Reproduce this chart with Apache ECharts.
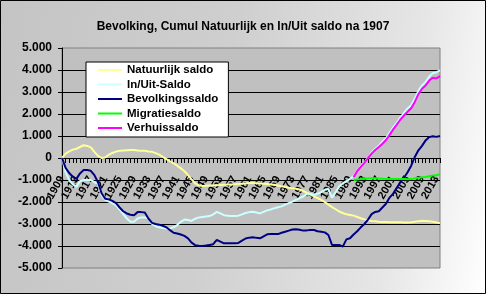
<!DOCTYPE html>
<html>
<head>
<meta charset="utf-8">
<script src="https://cdn.jsdelivr.net/npm/echarts@6/dist/echarts.min.js"></script>
<style>
html,body{margin:0;padding:0;}
#c{width:486px;height:294px;background:linear-gradient(100deg,#c4c4c4 0%,#cfcfcf 45%,#e6e6e6 80%,#ffffff 100%);}
</style>
</head>
<body>
<div id="c"></div>
<script>
// Years 1909..2014
var years = [];
for (var y = 1909; y <= 2014; y++) years.push(String(y));

var natuurlijk = [0,200,300,380,420,500,580,550,480,280,100,0,20,150,230,290,330,340,350,360,
360,340,330,330,300,280,220,150,50,-50,-150,-240,-350,-470,-600,-780,-970,-1150,-1240,-1270,
-1260,-1250,-1240,-1240,-1230,-1220,-1210,-1200,-1190,-1180,-1170,-1160,-1140,-1140,-1150,-1160,-1170,-1180,-1200,-1220,
-1250,-1290,-1320,-1350,-1380,-1400,-1430,-1500,-1580,-1660,-1740,-1820,-1900,-2000,-2120,-2230,-2330,-2430,-2500,-2560,
-2590,-2620,-2680,-2740,-2790,-2830,-2860,-2880,-2900,-2910,-2910,-2920,-2920,-2920,-2920,-2930,-2930,-2920,-2900,-2870,
-2850,-2860,-2880,-2900,-2930,-2960];

var inUit = [0,-650,-1000,-1200,-1300,-1050,-1000,-1000,-1000,-1100,-1200,-1700,-1900,-1980,-2050,-2150,-2350,-2550,-2750,-2900,
-2900,-2750,-2700,-2700,-2750,-3000,-3100,-3150,-3180,-3200,-3200,-3150,-3050,-2900,-2800,-2820,-2860,-2760,-2700,-2680,
-2660,-2640,-2560,-2450,-2520,-2600,-2620,-2640,-2640,-2620,-2560,-2500,-2460,-2440,-2480,-2520,-2450,-2380,-2340,-2280,
-2240,-2200,-2120,-2050,-1980,-1900,-1820,-1750,-1630,-1620,-1680,-1620,-1550,-1450,-1400,-1800,-1560,-1300,-1150,-1050,
-950,-820,-580,-380,-200,20,250,420,560,740,900,1150,1400,1600,1850,2050,2250,2400,2700,3050,
3300,3450,3700,3850,3900,3980];

var bevolking = [0,-450,-680,-850,-950,-700,-550,-550,-580,-780,-1100,-1600,-1850,-1880,-1950,-2050,-2250,-2420,-2520,-2580,
-2600,-2460,-2460,-2480,-2750,-2950,-3000,-3030,-3080,-3150,-3280,-3400,-3430,-3480,-3540,-3650,-3850,-3960,-3990,-4000,
-3980,-3950,-3920,-3720,-3800,-3880,-3880,-3880,-3880,-3860,-3760,-3660,-3620,-3600,-3630,-3650,-3560,-3470,-3450,-3450,
-3460,-3400,-3350,-3300,-3250,-3240,-3260,-3300,-3290,-3270,-3270,-3330,-3350,-3380,-3500,-3950,-3950,-3950,-4030,-3700,
-3650,-3480,-3330,-3150,-3000,-2800,-2550,-2450,-2420,-2250,-2080,-1800,-1620,-1350,-1100,-900,-650,-350,50,350,
550,800,950,990,960,1000];

// 1990..2014 (earlier years have no values)
var migratie1990 = [-1000,-980,-960,-940,-930,-920,-920,-930,-940,-950,-950,-950,-950,-960,-960,-970,-960,-930,-900,-880,
-860,-830,-800,-780,-740];
var verhuis1990 = [-870,-600,-400,-220,0,200,360,500,650,820,1050,1300,1520,1750,1930,2100,2260,2550,2900,3150,
3300,3520,3650,3620,3720];

var seriesNames = ['Natuurlijk saldo','In/Uit-Saldo','Bevolkingssaldo','Migratiesaldo','Verhuissaldo'];
var seriesColors = ['#FFFF99','#CCFFFF','#000080','#00FF00','#FF00FF'];

function padFrom1990(arr){
  var out = [];
  var offset = 1990 - 1909;
  for (var i = 0; i < years.length; i++) out.push(i < offset ? null : arr[i - offset]);
  return out;
}
var seriesData = [natuurlijk, inUit, bevolking, padFrom1990(migratie1990), padFrom1990(verhuis1990)];

var chart = echarts.init(document.getElementById('c'), null, {renderer:'canvas'});
var font = 'Arial, "Liberation Sans", sans-serif';
var gridTop = 48, gridBottom = 26, plotH = 294 - gridTop - gridBottom;
// x axis sits on the value 0: halfway of the -5000..5000 range
var zeroOffset = -plotH / 2;

chart.setOption({
  animation:false,
  title:{
    text:'Bevolking, Cumul Natuurlijk en In/Uit saldo na 1907',
    left:'center', top:16,
    textStyle:{fontFamily:font, fontSize:12, fontWeight:'bold', color:'#000'}
  },
  grid:{left:62, right:46, top:gridTop, bottom:gridBottom, show:true, backgroundColor:'#C0C0C0', borderColor:'#808080', borderWidth:1, containLabel:false, outerBoundsMode:'none'},
  legend:{
    orient:'vertical', left:86, top:62,
    backgroundColor:'#fff', borderColor:'#000', borderWidth:1,
    padding:[2,10,3,12], itemGap:2.5, itemWidth:24, itemHeight:12,
    icon:'path://M0,0 L24,0 L24,2 L0,2 Z', symbolKeepAspect:true,
    textStyle:{fontFamily:font, fontSize:11.5, fontWeight:'bold', color:'#000'},
    data:seriesNames
  },
  xAxis:{
    type:'category', data:years, boundaryGap:false, offset:zeroOffset,
    axisLine:{onZero:false, lineStyle:{color:'#000', width:1}},
    axisTick:{show:true, interval:0, length:5, lineStyle:{color:'#000'}},
    axisLabel:{interval:3, rotate:60, margin:19, fontFamily:font, fontSize:11, fontWeight:'bold', color:'#000'},
    splitLine:{show:false}
  },
  yAxis:{
    type:'value', min:-5000, max:5000, interval:1000,
    axisLine:{show:true, lineStyle:{color:'#000'}},
    axisTick:{show:true, length:4, lineStyle:{color:'#000'}},
    axisLabel:{margin:10, fontFamily:font, fontSize:12, fontWeight:'bold', color:'#000',
      formatter:function(v){ if (v===0) return '0'; return (v<0?'-':'') + Math.abs(v/1000) + '.000'; }},
    splitLine:{show:true, showMinLine:false, showMaxLine:false, lineStyle:{color:'#000', width:1}}
  },
  graphic:[{type:'rect', shape:{x:0.5,y:0.5,width:485,height:293}, style:{fill:'none', stroke:'#000', lineWidth:1}, silent:true, z:100}],
  series: seriesNames.map(function(n,i){
    return {name:n, type:'line', data:seriesData[i], symbol:'none', showSymbol:false, connectNulls:false,
      lineStyle:{color:seriesColors[i], width:2}, itemStyle:{color:seriesColors[i]}, z:2+i};
  })
});
</script>
</body>
</html>
